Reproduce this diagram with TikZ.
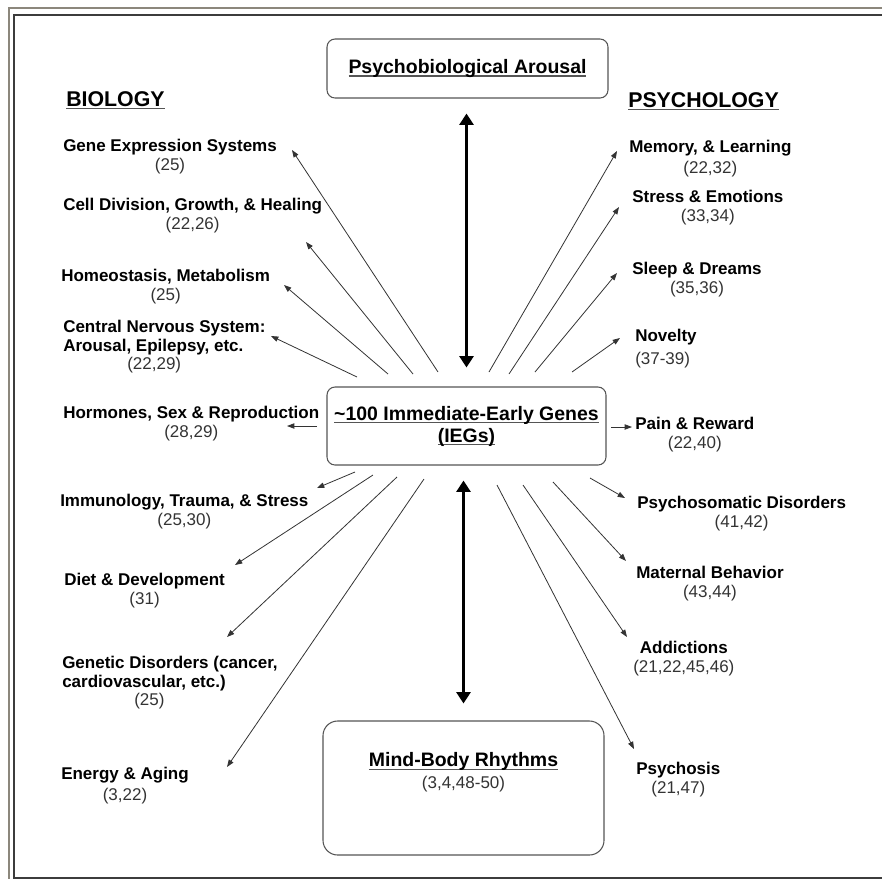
\documentclass[tikz,border=0pt]{standalone}
\usepackage{fontspec}
\setmainfont{Liberation Sans}
\usetikzlibrary{arrows.meta, positioning}

\definecolor{inkline}{HTML}{333333}
\definecolor{boxline}{HTML}{555555}
\definecolor{frameout}{HTML}{8C877C}
\definecolor{framein}{HTML}{3C3C3C}

\newsavebox\ulsave
\newcommand{\ulbox}[1]{\sbox\ulsave{#1}\rlap{\color{boxline}\rule[-2.4pt]{\wd\ulsave}{1pt}}\usebox\ulsave}
\newcommand{\refnum}[1]{{\mdseries\color{inkline}#1}}

\begin{document}
\begin{tikzpicture}[
        x=0.75pt, y=-0.75pt,
        topic/.style={anchor=north west, inner sep=0pt, align=center, font=\fontsize{12.75}{14}\selectfont\bfseries},
        heading/.style={anchor=north west, inner sep=0pt, font=\fontsize{16}{19}\selectfont\bfseries},
        panel/.style={draw=boxline, line width=0.8pt, rounded corners=6pt, align=center, inner sep=0pt, font=\fontsize{14.6}{16.5}\selectfont\bfseries},
        spoke/.style={-{Triangle[length=5.5pt, width=4pt]}, draw=inkline, line width=0.6pt},
        bigarrow/.style={{Triangle[length=8.5pt, width=10.5pt]}-{Triangle[length=8.5pt, width=10.5pt]}, line width=1.9pt}
        ]
        \useasboundingbox (0,0) rectangle (882,879);
        % frame
        \draw[frameout, line width=1.5pt] (882,8) -- (9,8) -- (9,879);
        \draw[framein, line width=1.5pt] (882,15) -- (14,15) -- (14,878) -- (882,878);

        % boxes
        \node (arousal) [panel, minimum width=210.75pt, minimum height=44.25pt] at (467.5,68.5) {\ulbox{Psychobiological Arousal}};
        \node (ieg) [panel, minimum width=209.25pt, minimum height=58.5pt] at (466.5,426) {\ulbox{\textasciitilde100 Immediate-Early Genes}\\\ulbox{(IEGs)}};
        \node (mind) [panel, rounded corners=11pt, minimum width=210.75pt, minimum height=100.5pt] at (463.5,788) {};
        \node (mindtext) [below=24pt of mind.north, align=center, inner sep=0pt, font=\fontsize{14.6}{16.5}\selectfont\bfseries] {\ulbox{Mind-Body Rhythms}\\\refnum{\fontsize{12.75}{14}\selectfont(3,4,48-50)}};

        \node (bio) [heading] at (66,91) {\ulbox{BIOLOGY}};
        \node (psy) [heading] at (628,92) {\ulbox{PSYCHOLOGY}};

        % biology side
        \node (gene) [topic] at (63,139) {Gene Expression Systems\\\refnum{(25)}};
        \node (cell) [topic] at (63,198) {Cell Division, Growth, \& Healing\\\refnum{(22,26)}};
        \node (homeo) [topic] at (61,269) {Homeostasis, Metabolism\\\refnum{(25)}};
        \node (cns) [topic, align=left] at (63,320) {Central Nervous System:\\Arousal, Epilepsy, etc.\\\hspace*{48pt}\refnum{(22,29)}};
        \node (horm) [topic] at (63,406) {Hormones, Sex \& Reproduction\\\refnum{(28,29)}};
        \node (immun) [topic] at (60,494) {Immunology, Trauma, \& Stress\\\refnum{(25,30)}};
        \node (diet) [topic] at (64,573) {Diet \& Development\\\refnum{(31)}};
        \node (genet) [topic, align=left] at (62,656) {Genetic Disorders (cancer,\\cardiovascular, etc.)\\\hspace*{54pt}\refnum{(25)}};
        \node (energy) [topic] at (61,767) {Energy \& Aging\\[2pt]\refnum{(3,22)}};

        % psychology side
        \node (memory) [topic] at (629,140) {Memory, \& Learning\\[2pt]\refnum{(22,32)}};
        \node (stress) [topic] at (632,190) {Stress \& Emotions\\\refnum{(33,34)}};
        \node (sleep) [topic] at (632,262) {Sleep \& Dreams\\\refnum{(35,36)}};
        \node (novelty) [topic, align=left] at (635,329) {Novelty\\[3pt]\refnum{(37-39)}};
        \node (pain) [topic] at (635,417) {Pain \& Reward\\\refnum{(22,40)}};
        \node (psysom) [topic] at (637,496) {Psychosomatic Disorders\\\refnum{(41,42)}};
        \node (maternal) [topic] at (636,566) {Maternal Behavior\\\refnum{(43,44)}};
        \node (addict) [topic] at (633,641) {Addictions\\\refnum{(21,22,45,46)}};
        \node (psychosis) [topic] at (636,762) {Psychosis\\\refnum{(21,47)}};

        % spokes out of the IEG box
        \foreach \n/\sx/\sy/\tx/\ty in {
                gene/438/372/292/150, cell/413/374/306/242, homeo/388/374/284/285,
                cns/357/377/271/336, horm/317/426/287/426, immun/355/472/317/488,
                diet/373/475/235/565, genet/397/477/227/637, energy/424/479/227/767,
                memory/489/372/617/151, stress/509/374/619/207, sleep/535/372/617/273,
                novelty/572/372/620/338, pain/611/427/632/427, psysom/590/478/625/498,
                maternal/553/482/626/561, addict/523/485/627/637, psychosis/497/485/634/749}{
            \coordinate (\n-from) at (\sx,\sy);
            \coordinate (\n-to) at (\tx,\ty);
            \draw[spoke] (\n-from) -- (\n-to);
        }

        \draw[bigarrow, shorten <=11.25pt, shorten >=14.25pt] (arousal.south -| ieg.north) -- (ieg.north);
        \draw[bigarrow, shorten <=11.25pt, shorten >=12.75pt] (ieg.south -| mind.north) -- (mind.north);
    \end{tikzpicture}
\end{document}
